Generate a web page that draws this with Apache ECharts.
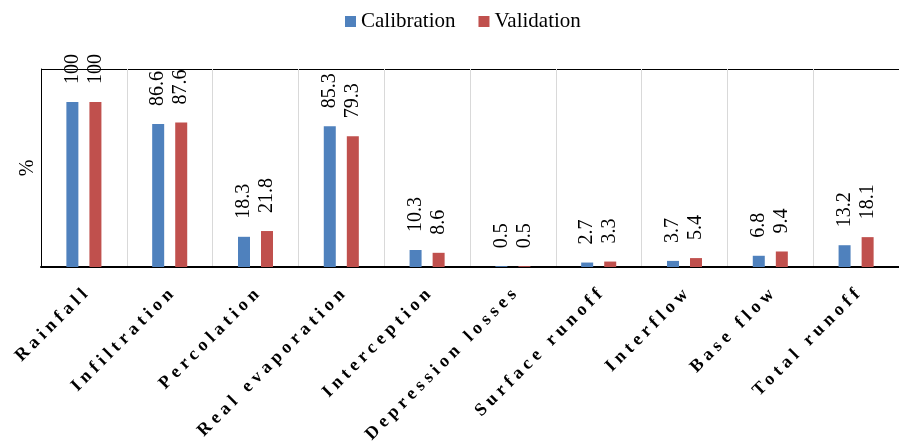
<!DOCTYPE html>
<html>
<head>
<meta charset="utf-8">
<script src="https://cdn.jsdelivr.net/npm/echarts@6/dist/echarts.min.js"></script>
<style>
html,body{margin:0;padding:0;background:#fff;}
#chart{width:899px;height:443px;}
</style>
</head>
<body>
<div id="chart"></div>
<script>
const categories = ["Rainfall","Infiltration","Percolation","Real evaporation","Interception","Depression losses","Surface runoff","Interflow","Base flow","Total runoff"];
const calibration = [100, 86.6, 18.3, 85.3, 10.3, 0.5, 2.7, 3.7, 6.8, 13.2];
const validation = [100, 87.6, 21.8, 79.3, 8.6, 0.5, 3.3, 5.4, 9.4, 18.1];
const seriesNames = ["Calibration", "Validation"];

// letter spacing only for the bold category labels (style only)
(function(){
  const proto = CanvasRenderingContext2D.prototype;
  const orig = proto.fillText;
  proto.fillText = function(t, x, y, m){
    const f = this.font;
    const want = /bold|700/.test(f) ? '4.6px' : '0px';
    if (this.letterSpacing !== want) { this.letterSpacing = want; this.font = f; }
    return orig.apply(this, arguments);
  };
})();

const chart = echarts.init(document.getElementById('chart'), null, {renderer: 'canvas'});
const serif = "Liberation Serif";
const valueLabel = {
  show: true, position: 'top', rotate: 90, align: 'left', verticalAlign: 'middle',
  distance: 18, fontSize: 20, fontFamily: serif, color: '#000'
};
chart.setOption({
  animation: false,
  textStyle: {fontFamily: serif},
  legend: {
    left: 340, top: 6, itemWidth: 11, itemHeight: 11, itemGap: 23, icon: 'rect',
    textStyle: {fontSize: 21, fontFamily: serif, color: '#000'},
    data: seriesNames
  },
  grid: {left: 41, top: 69, width: 869, height: 198, containLabel: false},
  xAxis: [{
    type: 'category', data: categories, position: 'bottom',
    axisLine: {lineStyle: {color: '#000', width: 2}},
    axisTick: {show: false},
    splitLine: {show: true, lineStyle: {color: '#d9d9d9', width: 1}},
    axisLabel: {interval: 0, rotate: 45, margin: 26, padding: [0, -6, 0, 0], fontSize: 18, fontWeight: 'bold', fontFamily: serif, color: '#000'}
  }],
  yAxis: {
    type: 'value', min: 0, max: 120, interval: 120,
    name: '%', nameLocation: 'middle', nameGap: 3,
    nameTextStyle: {fontSize: 20, fontFamily: serif, color: '#000'},
    axisLine: {show: true, lineStyle: {color: '#000', width: 1}},
    axisTick: {show: false},
    axisLabel: {show: false},
    splitLine: {show: true, lineStyle: {color: '#000', width: 1}}
  },
  series: [
    {name: seriesNames[0], type: 'bar', data: calibration, barWidth: 12, barGap: '92%',
     itemStyle: {color: '#4F81BD'}, label: valueLabel},
    {name: seriesNames[1], type: 'bar', data: validation, barWidth: 12,
     itemStyle: {color: '#C0504D'}, label: valueLabel}
  ]
});
</script>
</body>
</html>
